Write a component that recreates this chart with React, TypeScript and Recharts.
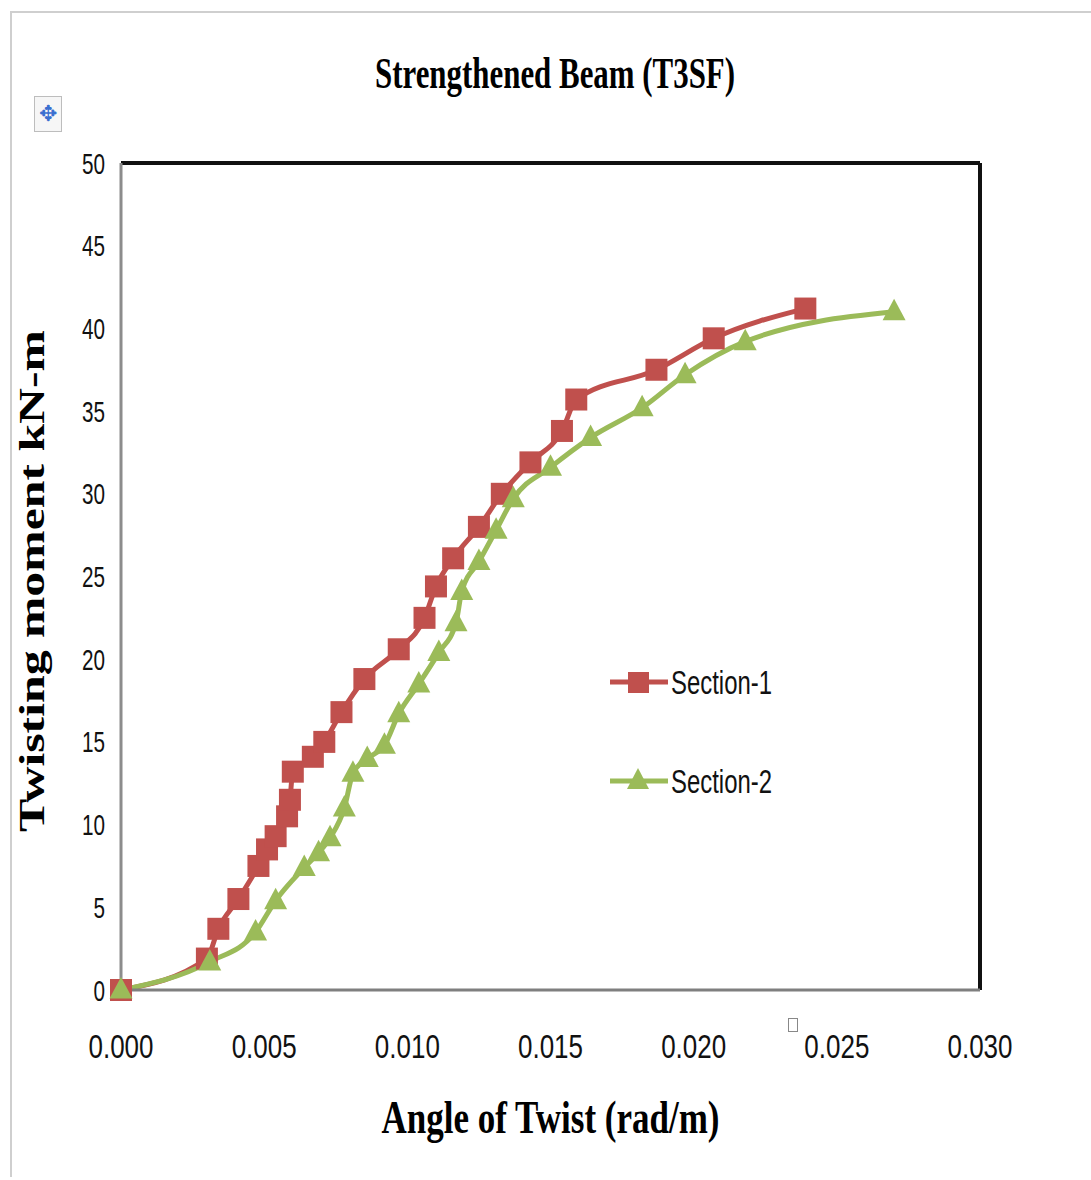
import { Line, LineChart, ReferenceLine, XAxis, YAxis } from 'recharts';

// values
const section1X = [0, 0.003, 0.0034, 0.0041, 0.0048, 0.0051, 0.0054, 0.0058, 0.0059, 0.006, 0.0067, 0.0071, 0.0077, 0.0085, 0.0097, 0.0106, 0.011, 0.0116, 0.0125, 0.0133, 0.0143, 0.0154, 0.0159, 0.0187, 0.0207, 0.0239];
const section1Y = [0, 1.9, 3.7, 5.5, 7.5, 8.5, 9.3, 10.5, 11.5, 13.2, 14.1, 15, 16.8, 18.8, 20.6, 22.5, 24.4, 26.1, 28, 30, 31.9, 33.8, 35.7, 37.5, 39.4, 41.2];
const section2X = [0, 0.0031, 0.0047, 0.0054, 0.0064, 0.0069, 0.0073, 0.0078, 0.0081, 0.0086, 0.0092, 0.0097, 0.0104, 0.0111, 0.0117, 0.0119, 0.0125, 0.0131, 0.0137, 0.015, 0.0164, 0.0182, 0.0197, 0.0218, 0.027];
const section2Y = [0, 1.7, 3.5, 5.4, 7.4, 8.3, 9.2, 11, 13.1, 14, 14.8, 16.7, 18.5, 20.4, 22.2, 24.1, 25.9, 27.8, 29.7, 31.6, 33.4, 35.2, 37.2, 39.2, 41];
const xTicks = [0, 0.005, 0.01, 0.015, 0.02, 0.025, 0.03];
const yTicks = [0, 5, 10, 15, 20, 25, 30, 35, 40, 45, 50];

const RED = '#C0504D';
const GREEN = '#9BBB59';
const serif = '"Liberation Serif", "Times New Roman", serif';
const sans = '"Liberation Sans", Arial, sans-serif';

const s1 = section1X.map((x, i) => ({ x, y: section1Y[i] }));
const s2 = section2X.map((x, i) => ({ x, y: section2Y[i] }));

const Square = (props: any) => {
  const { cx, cy, index } = props;
  if (cx == null || cy == null) return <g key={index} />;
  return <rect key={index} x={cx - 11} y={cy - 11} width={22} height={22} fill={RED} />;
};

const Triangle = (props: any) => {
  const { cx, cy, index } = props;
  if (cx == null || cy == null) return <g key={index} />;
  return (
    <polygon
      key={index}
      points={`${cx},${cy - 13} ${cx - 11.5},${cy + 8.5} ${cx + 11.5},${cy + 8.5}`}
      fill={GREEN}
    />
  );
};

const YTick = ({ x, y, payload }: any) => {
  const label = String(payload.value);
  return (
    <text
      x={x - 16}
      y={y}
      textAnchor="end"
      dominantBaseline="central"
      fontFamily={sans}
      fontSize={30}
      fill="#111"
      textLength={label.length * 11.5}
      lengthAdjust="spacingAndGlyphs"
    >
      {label}
    </text>
  );
};

const XTick = ({ x, y, payload }: any) => (
  <text
    x={x}
    y={y + 56}
    textAnchor="middle"
    dominantBaseline="central"
    fontFamily={sans}
    fontSize={33}
    fill="#111"
    textLength={65}
    lengthAdjust="spacingAndGlyphs"
  >
    {Number(payload.value).toFixed(3)}
  </text>
);

const XLabel = ({ viewBox }: any) => (
  <text
    x={viewBox.x + viewBox.width / 2}
    y={1133}
    textAnchor="middle"
    fontFamily={serif}
    fontWeight="bold"
    fontSize={46}
    fill="#000"
    textLength={338}
    lengthAdjust="spacingAndGlyphs"
  >
    Angle of Twist (rad/m)
  </text>
);

const YLabel = () => (
  <text
    x={44}
    y={581}
    transform="rotate(-90, 44, 581)"
    textAnchor="middle"
    fontFamily={serif}
    fontWeight="bold"
    fontSize={36}
    fill="#000"
    textLength={502}
    lengthAdjust="spacingAndGlyphs"
  >
    Twisting moment kN-m
  </text>
);

const LegendBox = () => (
  <svg width={260} height={150} style={{ position: 'absolute', left: 600, top: 655, overflow: 'visible' }}>
    <line x1={10} x2={68} y1={27} y2={27} stroke={RED} strokeWidth={5} />
    <rect x={28} y={17} width={21} height={21} fill={RED} />
    <text x={71} y={27} dominantBaseline="central" fontFamily={sans} fontSize={33} fill="#111" textLength={101} lengthAdjust="spacingAndGlyphs">
      Section-1
    </text>
    <line x1={10} x2={68} y1={126} y2={126} stroke={GREEN} strokeWidth={5} />
    <polygon points="38,113 27,134 49,134" fill={GREEN} />
    <text x={71} y={126} dominantBaseline="central" fontFamily={sans} fontSize={33} fill="#111" textLength={101} lengthAdjust="spacingAndGlyphs">
      Section-2
    </text>
  </svg>
);

export default function App() {
  return (
    <div style={{ position: 'absolute', left: 0, top: 0, width: 1091, height: 1180, background: '#fff', overflow: 'hidden' }}>
      <div style={{ position: 'absolute', left: 10, top: 11, width: 1100, height: 1164, borderTop: '2px solid #cfcfcf', borderLeft: '2px solid #cfcfcf' }} />
      <div
        style={{
          position: 'absolute', left: 34, top: 96, width: 26, height: 34, border: '1px solid #bdbdbd',
          background: '#f6f6f6', color: '#3a6fd0', fontSize: 22, lineHeight: '34px', textAlign: 'center', fontFamily: sans,
        }}
      >
        ✥
      </div>
      <div style={{ position: 'absolute', left: 788, top: 1018, width: 8, height: 12, border: '1px solid #888', background: '#fff' }} />
      <svg width={1091} height={120} style={{ position: 'absolute', left: 0, top: 0 }}>
        <text
          x={555}
          y={88}
          textAnchor="middle"
          fontFamily={serif}
          fontWeight="bold"
          fontSize={44}
          fill="#000"
          textLength={360}
          lengthAdjust="spacingAndGlyphs"
        >
          Strengthened Beam (T3SF)
        </text>
      </svg>
      <div style={{ position: 'absolute', left: 0, top: 0 }}>
        <LineChart width={1091} height={1180} margin={{ top: 163, right: 111, bottom: 0, left: 0 }}>
          <XAxis
            type="number"
            dataKey="x"
            domain={[0, 0.03]}
            ticks={xTicks}
            height={190}
            tickLine={false}
            tickSize={0}
            tickMargin={0}
            tick={<XTick />}
            axisLine={{ stroke: '#7f7f7f', strokeWidth: 3 }}
            label={<XLabel />}
          />
          <YAxis
            type="number"
            dataKey="y"
            domain={[0, 50]}
            ticks={yTicks}
            width={121}
            tickLine={false}
            tickSize={0}
            tickMargin={0}
            tick={<YTick />}
            axisLine={{ stroke: '#8c8c8c', strokeWidth: 3 }}
            label={<YLabel />}
          />
          <ReferenceLine y={50} stroke="#111" strokeWidth={4} />
          <ReferenceLine x={0.03} stroke="#111" strokeWidth={4} />
          <Line
            data={s1}
            dataKey="y"
            name="Section-1"
            type="monotone"
            stroke={RED}
            strokeWidth={5}
            dot={<Square />}
            activeDot={false}
            isAnimationActive={false}
          />
          <Line
            data={s2}
            dataKey="y"
            name="Section-2"
            type="monotone"
            stroke={GREEN}
            strokeWidth={5}
            dot={<Triangle />}
            activeDot={false}
            isAnimationActive={false}
          />
        </LineChart>
      </div>
      <LegendBox />
    </div>
  );
}
